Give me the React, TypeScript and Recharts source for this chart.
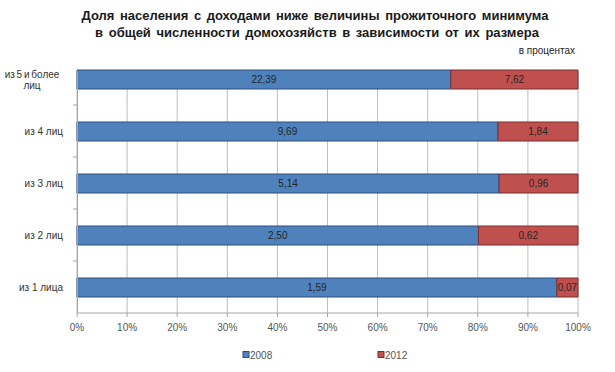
import React from "react"
import { BarChart, Bar, XAxis, YAxis, CartesianGrid, LabelList } from "recharts"

const categories = ["из 5 и более лиц", "из 4 лиц", "из 3 лиц", "из 2 лиц", "из 1 лица"]
const values2008 = [22.39, 9.69, 5.14, 2.5, 1.59]
const values2012 = [7.62, 1.84, 0.96, 0.62, 0.07]
const xTicks = [0, 0.1, 0.2, 0.3, 0.4, 0.5, 0.6, 0.7, 0.8, 0.9, 1]

const data = categories.map((name, i) => ({
  name,
  y2008: values2008[i],
  y2012: values2012[i],
}))

const FONT = "'Liberation Sans', Arial, sans-serif"
const BLUE = "#4F81BD"
const RED = "#C0504D"

const fmt = (v: any) => Number(v).toFixed(2).replace(".", ",")

// category label, wraps long names on two centered lines
const CategoryTick = ({ x, y, payload, index }: any) => {
  const text: string = payload.value
  const lines = text.length > 10 ? ["из 5 и более", "лиц"] : [text]
  const lineH = 11
  const startY = y - ((lines.length - 1) * lineH) / 2
  const multi = lines.length > 1
  return (
    <g>
      {index < categories.length - 1 && (
        <line x1={73} x2={77} y1={y + 26} y2={y + 26} stroke="#A6A6A6" />
      )}
      <text
        x={x - 6}
        y={startY}
        fill="#333"
        fontSize={10}
        fontFamily={FONT}
        textAnchor="end"
        dominantBaseline="central"
        wordSpacing={multi ? -1 : 0}
      >
        {lines.map((l, i) => (
          <tspan key={i} x={multi ? x - 37 : x - 6} dy={i === 0 ? 0 : lineH} textAnchor={multi ? "middle" : "end"}>
            {l}
          </tspan>
        ))}
      </text>
    </g>
  )
}

export default function App() {
  return (
    <div style={{ position: "absolute", left: 0, top: 0, width: 615, height: 372, background: "#fff" }}>
      <svg width={615} height={60} style={{ position: "absolute", left: 0, top: 0 }}>
        <text x={315} y={19.5} textAnchor="middle" fontSize={13} fontWeight="bold" fill="#1a1a1a" fontFamily={FONT} wordSpacing={2}>
          Доля населения с доходами ниже величины прожиточного минимума
        </text>
        <text x={317} y={36.5} textAnchor="middle" fontSize={13} fontWeight="bold" fill="#1a1a1a" fontFamily={FONT} wordSpacing={2}>
          в общей численности домохозяйств в зависимости от их размера
        </text>
        <text x={575} y={54} textAnchor="end" fontSize={10} fill="#222" fontFamily={FONT}>
          в процентах
        </text>
      </svg>
      <div style={{ position: "absolute", left: 0, top: 0 }}>
        <BarChart
          width={615}
          height={372}
          data={data}
          layout="vertical"
          stackOffset="expand"
          barSize={19}
          margin={{ top: 53, right: 37, left: 0, bottom: 39 }}
        >
          <CartesianGrid horizontal={false} stroke="#BDBDBD" y={71} height={242} />
          <XAxis
            type="number"
            domain={[0, 1]}
            ticks={xTicks}
            tickFormatter={(v) => `${Math.round(v * 100)}%`}
            stroke="#A6A6A6"
            tickSize={4}
            height={20}
            tick={{ fill: "#555", fontSize: 10, fontFamily: FONT, dy: 5 }}
          />
          <YAxis
            type="category"
            dataKey="name"
            width={77}
            stroke="#A6A6A6"
            tickLine={false}
            axisLine={false}
            tick={<CategoryTick />}
          />
          <Bar dataKey="y2008" stackId="a" fill={BLUE} stroke="#2F4F7A" strokeWidth={1} isAnimationActive={false}>
            <LabelList dataKey="y2008" position="center" formatter={fmt} fill="#262626" fontSize={10} fontFamily={FONT} />
          </Bar>
          <Bar dataKey="y2012" stackId="a" fill={RED} stroke="#7A2F2D" strokeWidth={1} isAnimationActive={false}>
            <LabelList dataKey="y2012" position="center" formatter={fmt} fill="#262626" fontSize={10} fontFamily={FONT} />
          </Bar>
        </BarChart>
      </div>
      <svg width={615} height={372} style={{ position: "absolute", left: 0, top: 0, pointerEvents: "none" }}>
        <line x1={77.5} x2={77.5} y1={71} y2={313} stroke="#A6A6A6" />
        <rect x={243} y={351.5} width={6} height={6} fill={BLUE} stroke="#2F4F7A" />
        <text x={250} y={359} fontSize={10} fill="#555" fontFamily={FONT}>2008</text>
        <rect x={378} y={351.5} width={6} height={6} fill={RED} stroke="#7A2F2D" />
        <text x={385} y={359} fontSize={10} fill="#555" fontFamily={FONT}>2012</text>
      </svg>
    </div>
  )
}
